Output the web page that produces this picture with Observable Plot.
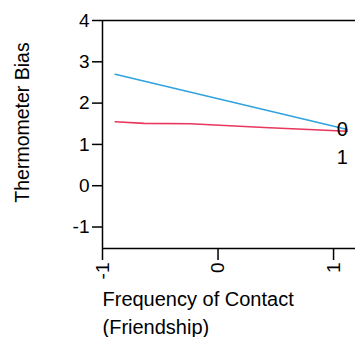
<!DOCTYPE html>
<html><head><meta charset="utf-8">
<script src="https://cdn.jsdelivr.net/npm/d3@7"></script>
<script src="https://cdn.jsdelivr.net/npm/@observablehq/plot@0.6"></script>
<style>body{margin:0;background:#fff} svg{display:block}</style>
</head><body><div id="chart"></div>
<script>
const contactX0 = [-0.89, 1.12];
const bias0 = [2.70, 1.36];
const contactX1 = [-0.89, -0.64, -0.24, 0.40, 1.12];
const bias1 = [1.55, 1.51, 1.50, 1.41, 1.32];
const xTicks = [-1, 0, 1];
const yTicks = [-1, 0, 1, 2, 3, 4];
const endLabels = ["0", "1"];
const endLabelX = [1.075, 1.075];
const endLabelY = [1.36, 0.68];
const xTitle = "Frequency of Contact\n(Friendship)";
const yTitle = "Thermometer Bias";
const xDomain = [-1, 1.19];
const yDomain = [-1.52, 4];

const line0 = contactX0.map((x, i) => ({x, y: bias0[i]}));
const line1 = contactX1.map((x, i) => ({x, y: bias1[i]}));
const labels = endLabels.map((t, i) => ({t, x: endLabelX[i], y: endLabelY[i]}));
const fmt = d => String(d);

const chart = Plot.plot({
  width: 355, height: 337,
  marginLeft: 102, marginRight: 0, marginTop: 20, marginBottom: 89,
  x: {domain: xDomain},
  y: {domain: yDomain},
  style: {fontFamily: "'Liberation Sans', Arial, sans-serif", fontSize: "19px", background: "#fff", color: "#000"},
  marks: [
    Plot.ruleY([d3.max(yTicks)], {stroke: "#000", strokeWidth: 1.5}),
    Plot.ruleX([xDomain[0]], {stroke: "#000", strokeWidth: 1.5}),
    Plot.ruleY([yDomain[0]], {stroke: "#000", strokeWidth: 1.5}),
    Plot.axisY({ticks: yTicks, tickFormat: fmt, tickSize: 10, tickPadding: 3, label: null, strokeWidth: 1.5, fontSize: 19}),
    Plot.axisX({ticks: xTicks, tickFormat: fmt, tickSize: 12, tickPadding: 2, tickRotate: -90, label: null, strokeWidth: 1.5, fontSize: 19}),
    Plot.line(line0, {x: "x", y: "y", stroke: "#2EA3DD", strokeWidth: 1.6}),
    Plot.line(line1, {x: "x", y: "y", stroke: "#E8365C", strokeWidth: 1.6}),
    Plot.text(labels, {x: "x", y: "y", text: "t", fill: "#000", fontSize: 20}),
    Plot.text([yTitle], {frameAnchor: "left", textAnchor: "middle", dx: -80, dy: -12, rotate: -90, fontSize: 19.5, fill: "#000"}),
    Plot.text([xTitle], {frameAnchor: "bottom-left", textAnchor: "start", lineAnchor: "top", dy: 37, lineHeight: 1.42, fontSize: 20, fill: "#000"})
  ]
});
document.getElementById("chart").appendChild(chart);
</script>
</body></html>
